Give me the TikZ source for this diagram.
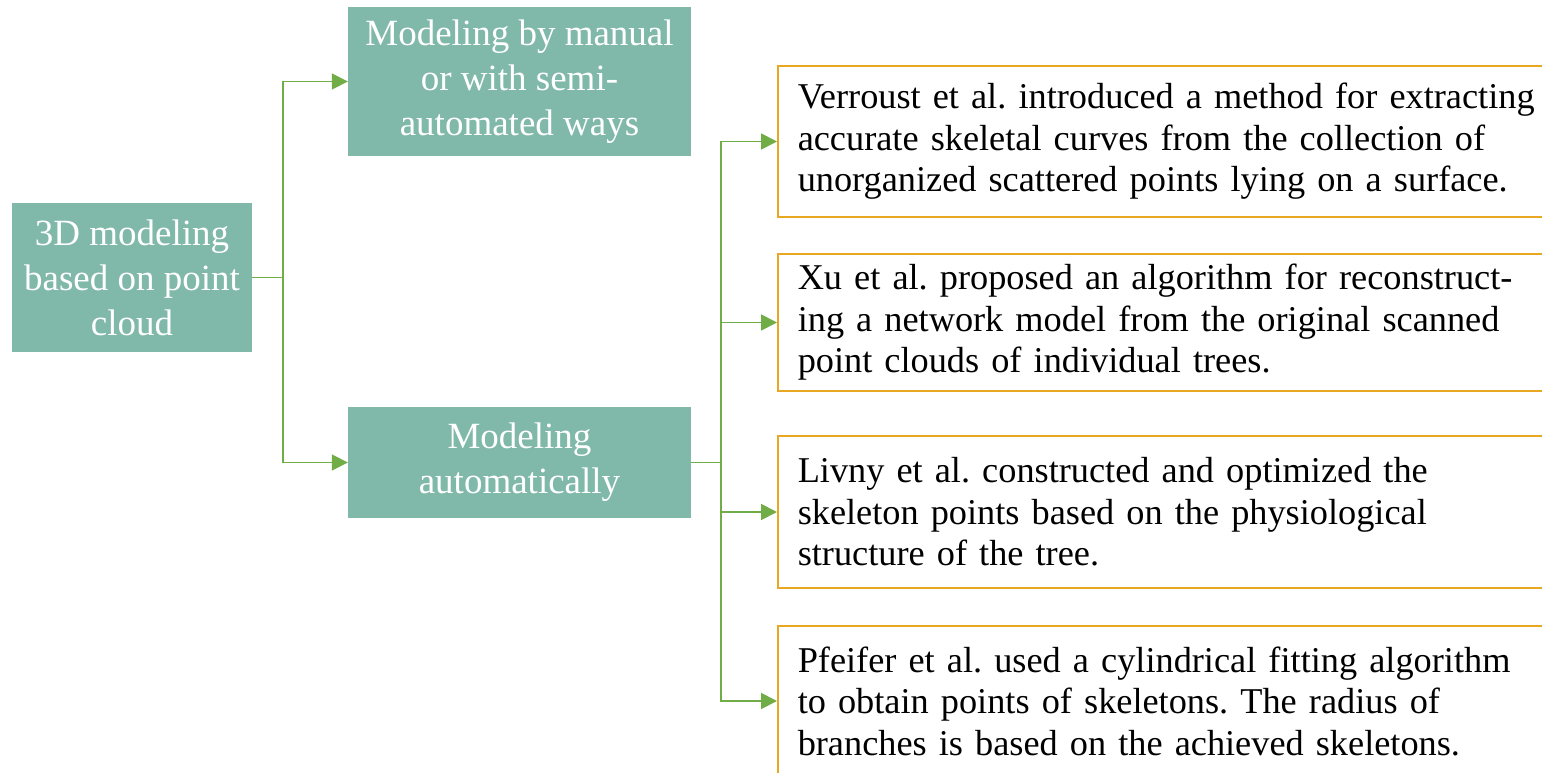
\documentclass[tikz,border=0pt]{standalone}
\usepackage{fontspec}
\setmainfont{Liberation Serif}
\usetikzlibrary{arrows.meta}
\definecolor{teal1}{HTML}{80B8AA}
\definecolor{gold1}{HTML}{E8A824}
\definecolor{green1}{HTML}{70AD47}
\frenchspacing
\begin{document}
\begin{tikzpicture}[x=1pt,y=-1pt,
  tealbox/.style={fill=teal1, text=white, align=center, inner sep=0pt,
    font=\fontsize{37}{45}\selectfont},
  refbox/.style={draw=gold1, line width=1.5pt, align=left, anchor=west,
    inner xsep=20pt, inner ysep=0pt, text width=780pt,
    font=\fontsize{36.3}{41.5}\selectfont},
  arr/.style={draw=green1, line width=1.8pt, -{Triangle[length=16pt,width=16pt]}}]
\useasboundingbox (0,0) rectangle (1542,773);
\clip (0,0) rectangle (1542,773);
\node[tealbox, minimum width=240pt, minimum height=149pt] (root) at (132,277.5)
  {3D modeling\\based on point\\cloud};
\node[tealbox, minimum width=343pt, minimum height=149pt] (manual) at (519.5,81.5)
  {Modeling by manual\\or with semi-\\automated ways};
\node[tealbox, minimum width=343pt, minimum height=111pt] (auto) at (519.5,462.5)
  {Modeling\\automatically};
\node[refbox, minimum height=151pt] (r1) at (777,141.5)
  {Verroust et al. introduced a method for extracting\\accurate skeletal curves from the collection of\\unorganized scattered points lying on a surface.};
\node[refbox, minimum height=137pt] (r2) at (777,322.5)
  {Xu et al. proposed an algorithm for reconstruct-\\ing a network model from the original scanned\\point clouds of individual trees.};
\node[refbox, minimum height=152pt] (r3) at (777,512)
  {Livny et al. constructed and optimized the\\skeleton points based on the physiological\\structure of the tree.};
\node[refbox, minimum height=150pt] (r4) at (777,701)
  {Pfeifer et al. used a cylindrical fitting algorithm\\to obtain points of skeletons. The radius of\\branches is based on the achieved skeletons.};
\draw[arr] (root.east) -- ++(31,0) |- (manual.west);
\draw[arr] (root.east) -- ++(31,0) |- (auto.west);
\draw[arr] (auto.east) -- ++(30,0) |- (r1.west);
\draw[arr] (auto.east) -- ++(30,0) |- (r2.west);
\draw[arr] (auto.east) -- ++(30,0) |- (r3.west);
\draw[arr] (auto.east) -- ++(30,0) |- (r4.west);
\end{tikzpicture}
\end{document}
